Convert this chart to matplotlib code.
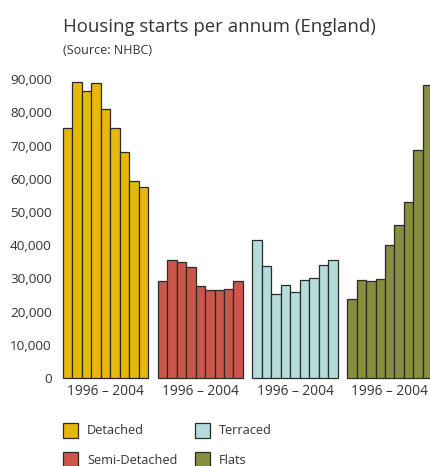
import numpy as np
import matplotlib.pyplot as plt
from matplotlib.patches import Rectangle

# Housing starts per annum (England), 1996 - 2004, source NHBC
years = list(range(1996, 2005))
detached = [75200, 89200, 86500, 89000, 81000, 75200, 68100, 59500, 57500]
semi_detached = [29100, 35500, 35000, 33400, 27700, 26600, 26400, 26800, 29100]
terraced = [41500, 33600, 25400, 27900, 25900, 29500, 30100, 33900, 35500]
flats = [23700, 29500, 29100, 29700, 40000, 46100, 53100, 68800, 88300]

names = ['Detached', 'Semi-Detached', 'Terraced', 'Flats']
series = [detached, semi_detached, terraced, flats]
colors = ['#E5B80B', '#C9574A', '#B5DCDC', '#878E3D']
group_label = '1996 \u2013 2004'

plt.rcParams['font.family'] = ['Open Sans', 'DejaVu Sans']
txt = '#333333'

W, H = 430, 466
fig = plt.figure(figsize=(W / 100, H / 100), dpi=100)
ax = fig.add_axes([63 / W, (H - 378) / H, (W - 63) / W, (378 - 79.3) / H])

n = len(years)
for g, (vals, col) in enumerate(zip(series, colors)):
    x = g * (n + 1) + np.arange(n)
    ax.bar(x, vals, width=1, align='edge', color=col, edgecolor='#2a2a2a',
           linewidth=0.9, clip_on=False)

ax.set_xlim(0, (W - 63) / 9.47)
ax.set_ylim(0, 90000)
ax.set_yticks(range(0, 90001, 10000))
ax.set_yticklabels([f'{v:,}' for v in range(0, 90001, 10000)])
ax.set_xticks([g * (n + 1) + n / 2 for g in range(len(series))])
ax.set_xticklabels([group_label] * len(series))
ax.tick_params(axis='y', length=0, pad=8, labelsize=9.7, labelcolor=txt)
ax.tick_params(axis='x', length=0, pad=4, labelsize=9.9, labelcolor=txt)
for s in ax.spines.values():
    s.set_visible(False)

fig.text(63 / W, 1 - 27 / H, 'Housing starts per annum (England)', fontsize=13.4,
         color=txt, va='center', ha='left')
fig.text(63 / W, 1 - 50.5 / H, '(Source: NHBC)', fontsize=9, color=txt,
         va='center', ha='left')

# legend, two columns
pos = [(63, 423), (63, 452), (195, 423), (195, 452)]
for (px, py), name, col in zip(pos, names, colors):
    fig.add_artist(Rectangle((px / W, 1 - (py + 15) / H), 15 / W, 15 / H,
                             transform=fig.transFigure, facecolor=col,
                             edgecolor='#2a2a2a', linewidth=0.9))
    fig.text((px + 24) / W, 1 - (py + 8) / H, name, fontsize=9.2, color=txt,
             va='center', ha='left')

fig.savefig('out.png', dpi=100)
